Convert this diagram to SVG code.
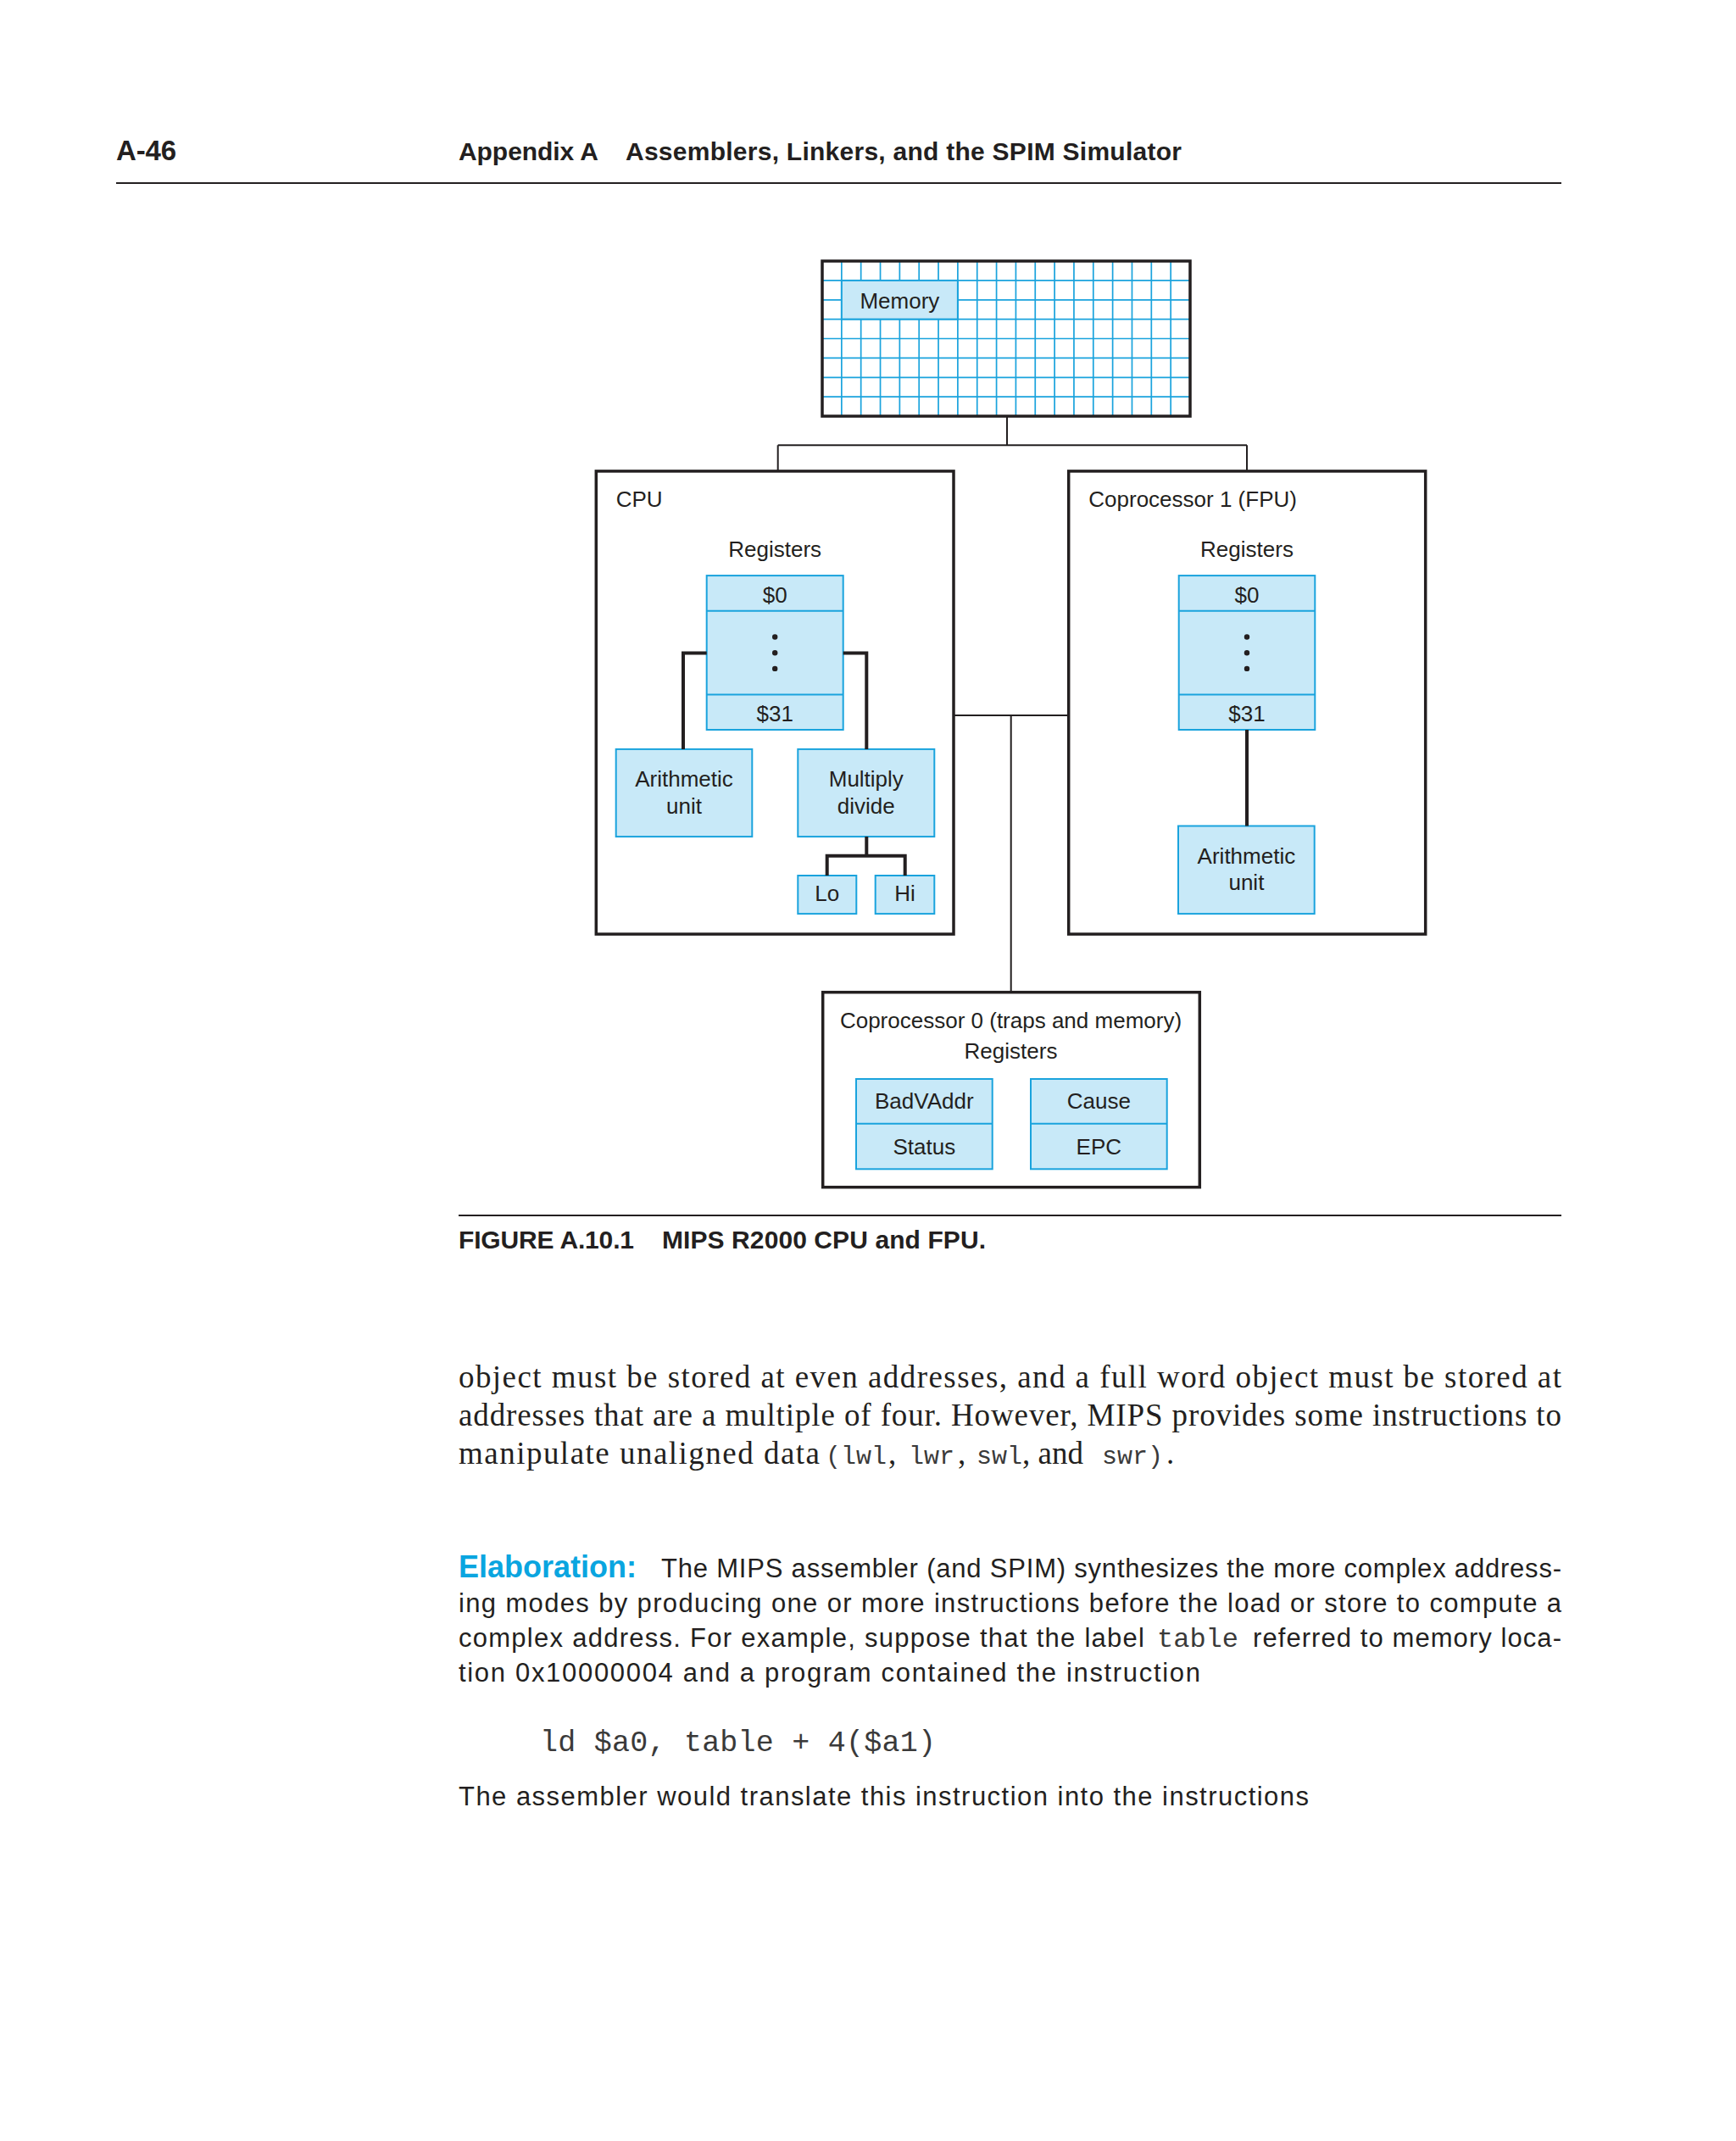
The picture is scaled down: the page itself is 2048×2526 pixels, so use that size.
<svg xmlns="http://www.w3.org/2000/svg" width="2048" height="2526" viewBox="0 0 2048 2526">
<style>
.box{fill:#fff;stroke:#231f20;stroke-width:3.5}
.reg{fill:#c8e9f8;stroke:#1aa3dd;stroke-width:2}
.grid{stroke:#1aa3dd;stroke-width:1.7;fill:none}
.lbl{font-family:"Liberation Sans",Arial,sans-serif;font-size:26px;fill:#231f20}
.c{text-anchor:middle}
.wire{stroke:#231f20;stroke-width:2;fill:none}
.wire2{stroke:#231f20;stroke-width:4;fill:none}
.dot{fill:#231f20}
.hdr{font-family:"Liberation Sans",Arial,sans-serif;font-weight:bold;font-size:30px;fill:#231f20}
.serif{font-family:"Liberation Serif","Times New Roman",serif;font-size:37px;fill:#231f20}
.sans{font-family:"Liberation Sans",Arial,sans-serif;font-size:31px;fill:#231f20}
.mono{font-family:"Liberation Mono","Courier New",monospace;fill:#3a3a3a}
.rule{stroke:#231f20;stroke-width:2.2}
</style>
<rect width="2048" height="2526" fill="#ffffff"/>

<!-- page header -->
<g id="page-header">
  <text class="hdr" x="137" y="189" style="font-size:33px" textLength="71">A-46</text>
  <text class="hdr" x="541" y="189" textLength="165">Appendix A</text>
  <text class="hdr" x="738" y="189" textLength="656">Assemblers, Linkers, and the SPIM Simulator</text>
  <line class="rule" x1="137" y1="216" x2="1842" y2="216"/>
</g>

<!-- Memory -->
<g id="memory">
  <rect x="970" y="308" width="434" height="183" fill="#fff"/>
  <path class="grid" d="M992.84 308V491M1015.68 308V491M1038.53 308V491M1061.37 308V491M1084.21 308V491M1107.05 308V491M1129.89 308V491M1152.74 308V491M1175.58 308V491M1198.42 308V491M1221.26 308V491M1244.11 308V491M1266.95 308V491M1289.79 308V491M1312.63 308V491M1335.47 308V491M1358.32 308V491M1381.16 308V491M970 330.9H1404M970 353.8H1404M970 376.6H1404M970 399.5H1404M970 422.4H1404M970 445.3H1404M970 468.1H1404"/>
  <rect class="reg" x="992.84" y="330.9" width="137.05" height="45.7" stroke-width="1.7"/>
  <text class="lbl c" x="1061.4" y="364">Memory</text>
  <rect x="970" y="308" width="434" height="183" fill="none" stroke="#231f20" stroke-width="3.5"/>
</g>

<!-- CPU -->
<g id="cpu">
  <rect class="box" x="703.3" y="555.9" width="421.7" height="546.2"/>
  <text class="lbl" x="726.7" y="598">CPU</text>
  <text class="lbl c" x="914.2" y="656.5">Registers</text>
</g>
<g id="cpu-registers">
  <rect class="reg" x="833.7" y="679.1" width="161" height="181.9"/>
  <line x1="833.7" y1="720.8" x2="994.7" y2="720.8" stroke="#1aa3dd" stroke-width="2"/>
  <line x1="833.7" y1="819.6" x2="994.7" y2="819.6" stroke="#1aa3dd" stroke-width="2"/>
  <text class="lbl c" x="914.2" y="710.9">$0</text>
  <circle class="dot" cx="914.2" cy="751.5" r="3.2"/>
  <circle class="dot" cx="914.2" cy="770.2" r="3.2"/>
  <circle class="dot" cx="914.2" cy="788.9" r="3.2"/>
  <text class="lbl c" x="914.2" y="850.6">$31</text>
</g>
<g id="cpu-arith">
  <rect class="reg" x="726.7" y="883.9" width="160.6" height="103.2"/>
  <text class="lbl c" x="807" y="928.3">Arithmetic</text>
  <text class="lbl c" x="807" y="959.7">unit</text>
</g>
<g id="cpu-muldiv">
  <rect class="reg" x="941.3" y="883.9" width="161" height="103.2"/>
  <text class="lbl c" x="1021.8" y="928.3">Multiply</text>
  <text class="lbl c" x="1021.8" y="959.7">divide</text>
</g>
<g id="cpu-lo">
  <rect class="reg" x="941.3" y="1033" width="69" height="45.1"/>
  <text class="lbl c" x="975.8" y="1063.3">Lo</text>
</g>
<g id="cpu-hi">
  <rect class="reg" x="1032.7" y="1033" width="69.6" height="45.1"/>
  <text class="lbl c" x="1067.5" y="1063.3">Hi</text>
</g>

<!-- Coprocessor 1 -->
<g id="fpu">
  <rect class="box" x="1260.7" y="555.9" width="421" height="546.2"/>
  <text class="lbl" x="1284.3" y="598">Coprocessor 1 (FPU)</text>
  <text class="lbl c" x="1471" y="656.5">Registers</text>
</g>
<g id="fpu-registers">
  <rect class="reg" x="1390.7" y="679.1" width="160.6" height="181.9"/>
  <line x1="1390.7" y1="720.8" x2="1551.3" y2="720.8" stroke="#1aa3dd" stroke-width="2"/>
  <line x1="1390.7" y1="819.6" x2="1551.3" y2="819.6" stroke="#1aa3dd" stroke-width="2"/>
  <text class="lbl c" x="1471" y="710.9">$0</text>
  <circle class="dot" cx="1471" cy="751.5" r="3.2"/>
  <circle class="dot" cx="1471" cy="770.2" r="3.2"/>
  <circle class="dot" cx="1471" cy="788.9" r="3.2"/>
  <text class="lbl c" x="1471" y="850.6">$31</text>
</g>
<g id="fpu-arith">
  <rect class="reg" x="1390" y="974.5" width="160.7" height="103.6"/>
  <text class="lbl c" x="1470.4" y="1018.9">Arithmetic</text>
  <text class="lbl c" x="1470.4" y="1050.4">unit</text>
</g>

<!-- Coprocessor 0 -->
<g id="cop0">
  <rect class="box" x="970.7" y="1170.7" width="444.6" height="230"/>
  <text class="lbl c" x="1192.5" y="1213.3">Coprocessor 0 (traps and memory)</text>
  <text class="lbl c" x="1192.5" y="1249.3">Registers</text>
</g>
<g id="cop0-badvaddr-status">
  <rect class="reg" x="1010" y="1273" width="160.7" height="106.3"/>
  <line x1="1010" y1="1325.7" x2="1170.7" y2="1325.7" stroke="#1aa3dd" stroke-width="2"/>
  <text class="lbl c" x="1090.3" y="1308.3">BadVAddr</text>
  <text class="lbl c" x="1090.3" y="1361.7">Status</text>
</g>
<g id="cop0-cause-epc">
  <rect class="reg" x="1216" y="1273" width="160.7" height="106.3"/>
  <line x1="1216" y1="1325.7" x2="1376.7" y2="1325.7" stroke="#1aa3dd" stroke-width="2"/>
  <text class="lbl c" x="1296.3" y="1308.3">Cause</text>
  <text class="lbl c" x="1296.3" y="1361.7">EPC</text>
</g>

<!-- connectors -->
<g id="connectors">
  <path class="wire" d="M1188 491 V525.3 M917.7 525.3 H1471 M917.7 525.3 V555.9 M1471 525.3 V555.9"/>
  <path class="wire" d="M1125 844 H1260.7 M1192.7 844 V1170.7"/>
  <path class="wire2" d="M833.7 770.4 H806 V883.9 M994.7 770.4 H1022.3 V883.9"/>
  <path class="wire2" d="M1022.3 987.1 V1009.7 M975.7 1033 V1009.7 H1067.7 V1033"/>
  <path class="wire2" d="M1471 861 V974.5"/>
</g>

<!-- caption -->
<g id="caption">
  <line class="rule" x1="541" y1="1434" x2="1842" y2="1434"/>
  <text class="hdr" x="541" y="1473" textLength="207">FIGURE A.10.1</text>
  <text class="hdr" x="781" y="1473" textLength="382">MIPS R2000 CPU and FPU.</text>
</g>

<!-- body text -->
<g id="body">
  <text class="serif" x="541" y="1637" textLength="1301">object must be stored at even addresses, and a full word object must be stored at</text>
  <text class="serif" x="541" y="1682" textLength="1301">addresses that are a multiple of four. However, MIPS provides some instructions to</text>
  <text class="serif" y="1727"><tspan x="541" textLength="426">manipulate unaligned data</tspan><tspan class="mono" style="font-size:30px" x="974">(lwl</tspan><tspan x="1048">,</tspan><tspan class="mono" style="font-size:30px" x="1072">lwr</tspan><tspan x="1130">,</tspan><tspan class="mono" style="font-size:30px" x="1152">swl</tspan><tspan x="1206">, and</tspan><tspan class="mono" style="font-size:30px" x="1300">swr)</tspan><tspan x="1376">.</tspan></text>
</g>

<g id="elaboration">
  <text class="hdr" x="541" y="1861" style="font-size:36px;fill:#0aa5e0">Elaboration:</text>
  <text class="sans" x="780" y="1861" textLength="1062">The MIPS assembler (and SPIM) synthesizes the more complex address-</text>
  <text class="sans" x="541" y="1902" textLength="1301">ing modes by producing one or more instructions before the load or store to compute a</text>
  <text class="sans" y="1943"><tspan x="541" textLength="809">complex address. For example, suppose that the label</tspan><tspan class="mono" style="font-size:32px" x="1365">table</tspan><tspan x="1478" textLength="364">referred to memory loca-</tspan></text>
  <text class="sans" x="541" y="1984" textLength="875">tion 0x10000004 and a program contained the instruction</text>
  <text class="mono" x="637" y="2066" style="font-size:35px" textLength="467">ld $a0, table + 4($a1)</text>
  <text class="sans" x="541" y="2130" textLength="1003">The assembler would translate this instruction into the instructions</text>
</g>
</svg>
